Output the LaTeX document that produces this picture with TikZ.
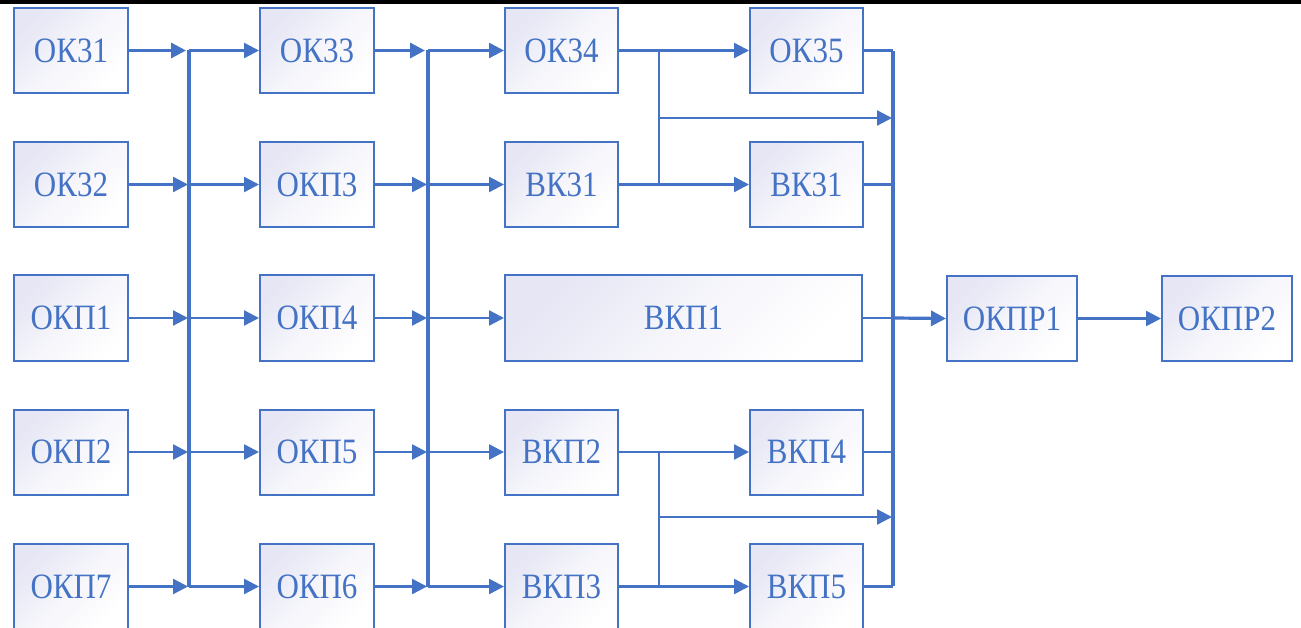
\documentclass[tikz,border=0pt]{standalone}
\usepackage{fontspec}
\setmainfont{Liberation Serif}
\usetikzlibrary{arrows.meta}
\definecolor{bl}{HTML}{4472C4}
\definecolor{lav}{HTML}{E6E6F5}
\newcommand{\tx}[1]{\scalebox{1}[1.15]{#1}}
\tikzset{
  blk/.style={draw=bl, line width=2pt, top color=lav, bottom color=white, middle color=lav!40!white, shading angle=45,
    minimum width=114pt, minimum height=85pt, inner sep=0pt, text=bl,
    font=\fontsize{31}{31}\selectfont},
  ln/.style={draw=bl, line width=2.4pt},
  thk/.style={draw=bl, line width=3.2pt},
  arr/.style={ln, -{Triangle[length=15pt,width=15pt]}},
  arrthk/.style={thk, -{Triangle[length=15pt,width=15pt]}},
}
\begin{document}
\begin{tikzpicture}[x=1pt,y=-1pt]
\clip (0,0) rectangle (1301,628);
\fill[white] (0,0) rectangle (1301,628);
\fill[black] (0,0) rectangle (1301,3.6);
% column 1
\node[blk] (ok31) at (71,50.5) {\tx{ОК31}};
\node[blk] (ok32) at (71,184.5) {\tx{ОК32}};
\node[blk] (okp1) at (71,318) {\tx{ОКП1}};
\node[blk] (okp2) at (71,452) {\tx{ОКП2}};
\node[blk] (okp7) at (71,586.5) {\tx{ОКП7}};
% column 2
\node[blk] (ok33) at (317,50.5) {\tx{ОК33}};
\node[blk] (okp3) at (317,184.5) {\tx{ОКП3}};
\node[blk] (okp4) at (317,318) {\tx{ОКП4}};
\node[blk] (okp5) at (317,452) {\tx{ОКП5}};
\node[blk] (okp6) at (317,586.5) {\tx{ОКП6}};
% column 3
\node[blk, minimum width=113pt] (ok34) at (561.5,50.5) {\tx{ОК34}};
\node[blk, minimum width=113pt] (vk31a) at (561.5,184.5) {\tx{ВК31}};
\node[blk, minimum width=357pt] (vkp1) at (683.5,318) {\tx{ВКП1}};
\node[blk, minimum width=113pt] (vkp2) at (561.5,452) {\tx{ВКП2}};
\node[blk, minimum width=113pt] (vkp3) at (561.5,586.5) {\tx{ВКП3}};
% column 4
\node[blk, minimum width=113pt] (ok35) at (806.5,50.5) {\tx{ОК35}};
\node[blk, minimum width=113pt] (vk31b) at (806.5,184.5) {\tx{ВК31}};
\node[blk, minimum width=113pt] (vkp4) at (806.5,452) {\tx{ВКП4}};
\node[blk, minimum width=113pt] (vkp5) at (806.5,586.5) {\tx{ВКП5}};
% outputs
\node[blk, minimum width=130pt] (okpr1) at (1012,318.5) {\tx{ОКПР1}};
\node[blk, minimum width=130pt] (okpr2) at (1227,318.5) {\tx{ОКПР2}};
% bus coordinates
\coordinate (a1) at (189,50.5);
\coordinate (a2) at (189,184.5);
\coordinate (a3) at (189,318);
\coordinate (a4) at (189,452);
\coordinate (a5) at (189,586.5);
\coordinate (b1) at (428,50.5);
\coordinate (b2) at (428,184.5);
\coordinate (b3) at (428,318);
\coordinate (b4) at (428,452);
\coordinate (b5) at (428,586.5);
\coordinate (c1) at (659,50.5);
\coordinate (c2) at (659,184.5);
\coordinate (cm) at (659,118);
\coordinate (c4) at (659,452);
\coordinate (c5) at (659,586.5);
\coordinate (cn) at (659,517);
\coordinate (d1) at (893,50.5);
\coordinate (d2) at (893,184.5);
\coordinate (d3) at (893,318);
\coordinate (d4) at (893,452);
\coordinate (d5) at (893,586.5);
\coordinate (dm) at (893,118);
\coordinate (dn) at (893,517);
% vertical buses
\draw[thk] (a1) -- (a5);
\draw[thk] (b1) -- (b5);
\draw[ln] (c1) -- (c2);
\draw[ln] (c4) -- (c5);
\draw[thk] ([yshift=-1pt]d1) -- ([yshift=1pt]d5);
% column 1 -> bus 1 -> column 2
\draw[arrthk, shorten >=3pt] (ok31.east) -- (a1);
\draw[arr, shorten >=1pt] (ok32.east) -- (a2);
\draw[arr, shorten >=1pt] (okp1.east) -- (a3);
\draw[arr, shorten >=1pt] (okp2.east) -- (a4);
\draw[arr, shorten >=1pt] (okp7.east) -- (a5);
\draw[arr] (a1) -- (ok33.west);
\draw[arr] (a2) -- (okp3.west);
\draw[arr] (a3) -- (okp4.west);
\draw[arr] (a4) -- (okp5.west);
\draw[arr] (a5) -- (okp6.west);
% column 2 -> bus 2 -> column 3
\draw[arrthk, shorten >=3pt] (ok33.east) -- (b1);
\draw[arr, shorten >=1pt] (okp3.east) -- (b2);
\draw[arr, shorten >=1pt] (okp4.east) -- (b3);
\draw[arr, shorten >=1pt] (okp5.east) -- (b4);
\draw[arr, shorten >=1pt] (okp6.east) -- (b5);
\draw[arr] (b1) -- (ok34.west);
\draw[arr] (b2) -- (vk31a.west);
\draw[arr] (b3) -- (vkp1.west);
\draw[arr] (b4) -- (vkp2.west);
\draw[arr] (b5) -- (vkp3.west);
% upper group
\draw[ln] (ok34.east) -- (c1);
\draw[arr] (c1) -- (ok35.west);
\draw[ln] (vk31a.east) -- (c2);
\draw[arr] (c2) -- (vk31b.west);
\draw[arr, shorten >=1pt] (cm) -- (dm);
% lower group
\draw[ln] (vkp2.east) -- (c4);
\draw[arr] (c4) -- (vkp4.west);
\draw[ln] (vkp3.east) -- (c5);
\draw[arr] (c5) -- (vkp5.west);
\draw[arr, shorten >=1pt] (cn) -- (dn);
% into bus 4
\draw[ln] (ok35.east) -- (d1);
\draw[ln] (vk31b.east) -- (d2);
\draw[ln] (vkp1.east) -- (d3);
\draw[ln] (vkp4.east) -- (d4);
\draw[ln] (vkp5.east) -- (d5);
% outputs
\draw[arrthk] (d3) -- (okpr1.west);
\draw[arr] (okpr1.east) -- (okpr2.west);
\end{tikzpicture}
\end{document}
